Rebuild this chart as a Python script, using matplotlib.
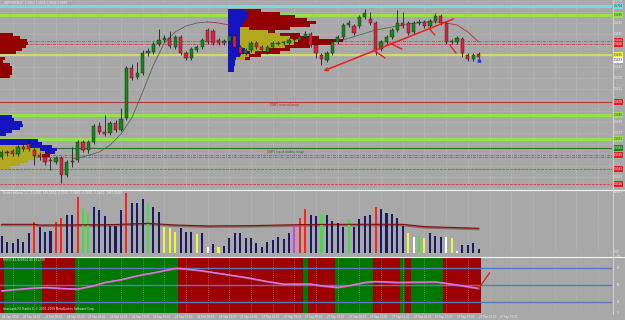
import matplotlib
matplotlib.use('Agg')
import matplotlib.pyplot as plt
import matplotlib.transforms as mtransforms

# ---------------- data ----------------
title_text = "GBPUSD,M30  1.5657 1.5658 1.5652 1.5653"
vol_title = "Better Volume 1.1  0.0000  149.0000  0.0000  0.0000  0.0000  0.0000  1957.0000"
rsi_title = "RSI(3) 41.920554 40.261238"
copyright_text = "Interbank FX Trader 4, \u00a9 2001-2009 MetaQuotes Software Corp."

opens = [1.5553, 1.5558, 1.5559, 1.5556, 1.5563, 1.5566, 1.5560, 1.5555, 1.5553, 1.5550,
         1.5548, 1.5552, 1.5535, 1.5548, 1.5550, 1.5568, 1.5560, 1.5568, 1.5584, 1.5578,
         1.5577, 1.5587, 1.5580, 1.5592, 1.5642, 1.5633, 1.5637, 1.5657, 1.5658, 1.5666,
         1.5670, 1.5672, 1.5663, 1.5673, 1.5657, 1.5652, 1.5660, 1.5663, 1.5680, 1.5679,
         1.5670, 1.5667, 1.5669, 1.5674, 1.5663, 1.5657, 1.5660, 1.5667, 1.5663, 1.5658,
         1.5663, 1.5667, 1.5667, 1.5667, 1.5671, 1.5670, 1.5673, 1.5676, 1.5665, 1.5655,
         1.5650, 1.5657, 1.5668, 1.5673, 1.5685, 1.5684, 1.5684, 1.5693, 1.5691, 1.5687,
         1.5661, 1.5668, 1.5673, 1.5680, 1.5687, 1.5687, 1.5678, 1.5687, 1.5688, 1.5684,
         1.5689, 1.5694, 1.5687, 1.5669, 1.5668, 1.5671, 1.5655, 1.5651, 1.5656]
highs = [1.5560, 1.5560, 1.5561, 1.5565, 1.5566, 1.5570, 1.5562, 1.5558, 1.5555, 1.5553,
         1.5554, 1.5554, 1.5550, 1.5563, 1.5570, 1.5570, 1.5570, 1.5586, 1.5588, 1.5595,
         1.5589, 1.5590, 1.5602, 1.5644, 1.5646, 1.5648, 1.5660, 1.5662, 1.5668, 1.5681,
         1.5675, 1.5679, 1.5675, 1.5675, 1.5659, 1.5663, 1.5665, 1.5672, 1.5682, 1.5681,
         1.5672, 1.5671, 1.5676, 1.5676, 1.5665, 1.5662, 1.5669, 1.5669, 1.5665, 1.5665,
         1.5669, 1.5669, 1.5669, 1.5672, 1.5673, 1.5675, 1.5679, 1.5678, 1.5667, 1.5657,
         1.5659, 1.5670, 1.5675, 1.5687, 1.5690, 1.5686, 1.5695, 1.5701, 1.5698, 1.5689,
         1.5670, 1.5675, 1.5682, 1.5700, 1.5698, 1.5689, 1.5689, 1.5691, 1.5690, 1.5691,
         1.5697, 1.5696, 1.5689, 1.5671, 1.5674, 1.5673, 1.5657, 1.5657, 1.5658]
lows = [1.5551, 1.5554, 1.5554, 1.5554, 1.5559, 1.5559, 1.5545, 1.5550, 1.5545, 1.5540,
        1.5546, 1.5527, 1.5533, 1.5543, 1.5548, 1.5558, 1.5557, 1.5566, 1.5576, 1.5574,
        1.5575, 1.5578, 1.5579, 1.5590, 1.5630, 1.5631, 1.5635, 1.5654, 1.5656, 1.5664,
        1.5668, 1.5662, 1.5661, 1.5655, 1.5650, 1.5650, 1.5658, 1.5661, 1.5666, 1.5665,
        1.5665, 1.5665, 1.5667, 1.5661, 1.5655, 1.5655, 1.5658, 1.5661, 1.5658, 1.5656,
        1.5661, 1.5665, 1.5665, 1.5665, 1.5668, 1.5668, 1.5671, 1.5663, 1.5652, 1.5645,
        1.5648, 1.5655, 1.5666, 1.5671, 1.5683, 1.5675, 1.5682, 1.5691, 1.5685, 1.5655,
        1.5659, 1.5666, 1.5671, 1.5678, 1.5682, 1.5675, 1.5676, 1.5685, 1.5682, 1.5682,
        1.5687, 1.5685, 1.5666, 1.5666, 1.5666, 1.5653, 1.5649, 1.5649, 1.5652]
closes = [1.5558, 1.5557, 1.5556, 1.5563, 1.5561, 1.5561, 1.5554, 1.5553, 1.5548, 1.5549,
          1.5552, 1.5535, 1.5548, 1.5549, 1.5568, 1.5560, 1.5568, 1.5584, 1.5578, 1.5576,
          1.5587, 1.5580, 1.5591, 1.5642, 1.5632, 1.5637, 1.5657, 1.5659, 1.5666, 1.5670,
          1.5672, 1.5664, 1.5673, 1.5657, 1.5652, 1.5661, 1.5663, 1.5670, 1.5668, 1.5667,
          1.5667, 1.5669, 1.5674, 1.5663, 1.5657, 1.5660, 1.5667, 1.5663, 1.5660, 1.5663,
          1.5667, 1.5666, 1.5668, 1.5670, 1.5670, 1.5673, 1.5676, 1.5665, 1.5657, 1.5651,
          1.5657, 1.5668, 1.5673, 1.5685, 1.5687, 1.5677, 1.5693, 1.5697, 1.5687, 1.5661,
          1.5668, 1.5673, 1.5680, 1.5687, 1.5684, 1.5677, 1.5687, 1.5688, 1.5684, 1.5689,
          1.5694, 1.5687, 1.5668, 1.5668, 1.5672, 1.5657, 1.5651, 1.5655, 1.5653]

# moving average readings (bar index, price)
ma_up_idx = [13, 15, 18, 20, 22, 24, 26, 28, 30, 32, 34, 36, 38]
ma_up_val = [1.5551, 1.5553, 1.5558, 1.5565, 1.5576, 1.5592, 1.5618, 1.5645, 1.5667, 1.5678,
             1.5684, 1.5687, 1.5688]
ma_dn1_idx = [38, 40, 42]
ma_dn1_val = [1.5688, 1.5687, 1.5685]
ma_up2_idx = [63, 66, 69, 72, 75, 78, 81]
ma_up2_val = [1.5670, 1.5675, 1.5680, 1.5683, 1.5686, 1.5688, 1.5688]
ma_dn2_idx = [81, 82, 84, 86, 88]
ma_dn2_val = [1.5688, 1.5687, 1.5685, 1.5678, 1.5668]

# volume
volumes = [419, 282, 242, 339, 266, 484, 750, 629, 524, 548,
           766, 846, 927, 927, 1370, 1088, 983, 1128, 1048, 903,
           669, 669, 1048, 1467, 1225, 1225, 1314, 1209, 1128, 1008,
           629, 605, 524, 605, 524, 524, 459, 500, 145, 226,
           145, 177, 379, 484, 484, 363, 363, 242, 161, 282,
           322, 403, 339, 484, 685, 862, 1064, 927, 911, 951,
           927, 782, 742, 645, 838, 645, 830, 903, 919, 1112,
           1072, 967, 943, 846, 669, 500, 403, 419, 379, 484,
           419, 403, 403, 363, 64, 202, 202, 242, 105]
vol_class = ("NNNNNNRNNN" "RRNNRLLNNN" "NNNRNNNLNN" "YYYNNNYNWN" "YNNNNNNNNN"
             "NNNNMRRNNL" "NNNNLNNNNR" "NNNNNYWLYN" "NNWYWNNNN")
vol_ma_idx = [0, 6, 7, 20, 27, 32, 38, 46, 55, 62, 74, 78, 82, 88]
vol_ma_val = [701, 701, 685, 693, 725, 685, 661, 669, 693, 701, 701, 645, 629, 605]

# RSI
rsi_idx = [0, 2, 5, 8, 11, 14, 17, 19, 22, 25, 29, 32, 33, 37, 41, 45, 49, 52, 55, 57,
           59, 62, 64, 67, 69, 73, 80, 82, 85, 88]
rsi_val = [39.8, 41.7, 44.1, 45.9, 44.1, 42.9, 48.8, 54.8, 59.5, 66.7, 73.8, 79.8, 79.8,
           75.6, 69.6, 63.7, 56.5, 51.8, 51.8, 52.0, 48.8, 45.9, 48.8, 54.8, 56.5, 54.8,
           55.6, 53.3, 48.8, 44.1]
rsi_zone = ("RGGGGGGGRRRRRRGGGGGGGGGGGGGGGGGGGRRRRRRRRRRRRRRRRRRRRRRRGRRRRRGGGGGGGRRRRRGRGGGGGGRRRRRRR")
rsi_ext_idx = [88, 90]
rsi_ext_val = [44.1, 71.4]
rsi_levels = [80, 50, 20]

# horizontal levels (price, colour, width, style, right-scale box colour)
level_price = [1.5704, 1.5695, 1.5669, 1.5666, 1.5655, 1.5608, 1.5595, 1.5571, 1.5562,
               1.5555, 1.5553, 1.5541, 1.5526]
level_color = ['#6fdede', '#97e04a', '#c85050', '#c85050', '#e6e65a', '#b23a3a', '#97e04a',
               '#97e04a', '#2f6f2f', '#c85050', '#c85050', '#c85050', '#c85050']
level_width = [2.2, 2.2, 0.7, 0.7, 1.1, 0.8, 2.2, 2.2, 0.8, 0.7, 0.7, 0.7, 0.7]
level_style = ['-', '-', (0, (3, 1, 1, 1)), (0, (3, 1, 1, 1)), '-', '-', '-', '-', '-',
               (0, (3, 1, 1, 1)), (0, (3, 1, 1, 1)), (0, (3, 1)), (0, (3, 1))]
level_box = ['#6fdede', '#97e04a', '#e02020', '#e02020', '#f0f040', '#e02020', '#97e04a',
             '#97e04a', '#1f7f1f', '#e02020', None, '#e02020', '#e02020']

# volume profiles: row top price, segment widths (in bars)
mid_prof_top = [1.5701, 1.5698, 1.5695, 1.5692, 1.5689, 1.5686, 1.5683, 1.5680, 1.5677,
                1.5674, 1.5671, 1.5668, 1.5665, 1.5662, 1.5659, 1.5656, 1.5653, 1.5650,
                1.5647, 1.5644, 1.5641]
mid_prof_blue = [3.1, 3.7, 3.7, 3.3, 3.0, 2.6, 2.2, 2.2, 2.2, 2.2, 2.2, 2.2, 2.2, 3.1, 4.1,
                 2.2, 1.5, 1.3, 1.3, 1.1, 1.1]
mid_prof_olive = [0, 0, 0, 0, 0, 0, 1.8, 5.2, 7.4, 9.2, 10.7, 10.1, 8.3, 4.6, 0.9, 1.8, 1.7,
                  0, 0, 0, 0]
mid_prof_red = [3.1, 5.9, 8.7, 11.4, 13.3, 12.5, 7.4, 1.3, 3.7, 5.5, 8.3, 7.4, 4.6, 3.7, 4.6,
                2.2, 0.9, 0, 0, 0, 0]
mid_prof_start = 41.7

lu_prof_top = [1.5677, 1.5674, 1.5671, 1.5668, 1.5665, 1.5662, 1.5659, 1.5656, 1.5653,
               1.5650, 1.5647, 1.5644, 1.5641, 1.5638, 1.5635]
lu_prof_red = [2.4, 3.7, 5.0, 5.2, 4.8, 4.1, 3.0, 0, 0.9, 0.5, 1.8, 2.2, 2.2, 2.2, 1.8]

lb_prof_top = [1.5595, 1.5592, 1.5589, 1.5586, 1.5583, 1.5580, 1.5577]
lb_prof_blue = [2.2, 2.6, 4.1, 4.2, 3.7, 2.2, 1.1]

ll_prof_top = [1.5571, 1.5568, 1.5565, 1.5562, 1.5559, 1.5556, 1.5553, 1.5550, 1.5547, 1.5544]
ll_prof_olive = [0, 0, 5.5, 7.4, 8.3, 7.7, 6.5, 5.2, 3.7, 1.8]
ll_prof_blue = [7.0, 7.7, 4.1, 3.1, 1.8, 0, 0, 0, 0, 0]
ll_prof_red = [0, 0, 0, 0, 0, 1.5, 0, 0, 0, 0]
prof_row = 0.0003

# trend line and marks (bar index, price)
trend_idx = [58.9, 83.8]
trend_val = [1.5638, 1.5692]
tick_marks = [([68.6, 70.7], [1.5660, 1.5652]), ([71.6, 73.8], [1.5667, 1.5661]),
              ([78.8, 79.9], [1.5682, 1.5675]), ([82.7, 83.8], [1.5665, 1.5657])]

price_ticks = [1.5709, 1.5698, 1.5687, 1.5676, 1.5665, 1.5654, 1.5643, 1.5632, 1.5621,
               1.5610, 1.5599, 1.5588, 1.5577, 1.5566, 1.5555, 1.5544, 1.5533, 1.5522]
time_labels = ["24 Sep 2010", "24 Sep 03:00", "24 Sep 05:00", "24 Sep 07:00", "24 Sep 09:00",
               "24 Sep 11:00", "24 Sep 13:00", "24 Sep 15:00", "24 Sep 17:00", "24 Sep 19:00",
               "24 Sep 21:00", "26 Sep 23:00", "27 Sep 01:00", "27 Sep 03:00", "27 Sep 05:00",
               "27 Sep 07:00", "27 Sep 09:00", "27 Sep 11:00", "27 Sep 13:00", "27 Sep 15:00",
               "27 Sep 17:00", "27 Sep 19:00", "27 Sep 21:00", "27 Sep 23:00"]

# ---------------- drawing ----------------
W, H = 625, 320
BG = '#a8a8a8'
GRID = '#c6c6c6'
TXT = '#f2f2f2'
FS = 2.1
fig = plt.figure(figsize=(W / 100, H / 100), dpi=100)
fig.patch.set_facecolor(BG)


def px_axes(x0, y0, x1, y1):
    ax = fig.add_axes([x0 / W, 1 - y1 / H, (x1 - x0) / W, (y1 - y0) / H])
    ax.set_facecolor(BG)
    for s in ax.spines.values():
        s.set_visible(False)
    ax.set_xticks([])
    ax.set_yticks([])
    return ax


XMIN, XMAX = -0.314, 112.6
n = len(opens)
idx = list(range(n))
grid_x = list(range(2, 113, 4))

ax = px_axes(0, 0, 612, 189)
ax.set_xlim(XMIN, XMAX)
ax.set_ylim(1.5521, 1.5710)
for gx in grid_x:
    ax.axvline(gx, color=GRID, lw=0.5, ls=(0, (1, 2)), zorder=0)
for gy in price_ticks:
    ax.axhline(gy, color=GRID, lw=0.5, ls=(0, (1, 2)), zorder=0)

for p, c, w, s in zip(level_price, level_color, level_width, level_style):
    ax.axhline(p, color=c, lw=w, ls=s, zorder=1)


def draw_profile(tops, start, segs):
    left = [start] * len(tops)
    centers = [t - prof_row / 2 for t in tops]
    for widths, col in segs:
        ax.barh(centers, widths, height=prof_row, left=left, color=col, lw=0, zorder=2)
        left = [l + w for l, w in zip(left, widths)]


RED_P, BLUE_P, OLIVE_P = '#930000', '#1414c0', '#b0a81e'
draw_profile(lu_prof_top, XMIN, [(lu_prof_red, RED_P)])
draw_profile(lb_prof_top, XMIN, [(lb_prof_blue, BLUE_P)])
draw_profile(ll_prof_top, XMIN, [(ll_prof_olive, OLIVE_P), (ll_prof_blue, BLUE_P), (ll_prof_red, RED_P)])
draw_profile(mid_prof_top, mid_prof_start, [(mid_prof_blue, BLUE_P), (mid_prof_olive, OLIVE_P), (mid_prof_red, RED_P)])

ax.text(49.5, 1.5607, "[GBP] reversal major", color='#d02020', fontsize=FS, va='top', zorder=3)
ax.text(49.0, 1.5560, "[GBP] top of trading range", color='#1e6e1e', fontsize=FS, va='top', zorder=3)
ax.text(49.0, 1.5703, "[GBP] major resistance", color='#6fe6e6', fontsize=FS, va='center', zorder=3)

ax.plot(ma_up_idx, ma_up_val, color='#4a6a4a', lw=0.6, zorder=3)
ax.plot(ma_dn1_idx, ma_dn1_val, color='#a03030', lw=0.6, zorder=3)
ax.plot(ma_up2_idx, ma_up2_val, color='#4a6a4a', lw=0.6, zorder=3)
ax.plot(ma_dn2_idx, ma_dn2_val, color='#b03030', lw=0.6, zorder=3)

BULL, BEAR = '#118a11', '#e0203c'
body_bottom = [min(o, c) for o, c in zip(opens, closes)]
body_h = [max(abs(c - o), 0.00006) for o, c in zip(opens, closes)]
body_col = [BULL if c > o else BEAR for o, c in zip(opens, closes)]
ax.vlines(idx, lows, highs, color='#1e1e1e', lw=0.6, zorder=4)
ax.bar(idx, body_h, bottom=body_bottom, width=0.6, color=body_col, edgecolor='#1e1e1e',
       lw=0.3, zorder=5)
ax.plot([n - 1], [lows[-1] - 0.0002], marker='^', ms=2.2, color='#2030ff', zorder=6)

ax.annotate('', xy=(trend_idx[0], trend_val[0]), xytext=(trend_idx[1], trend_val[1]),
            arrowprops=dict(arrowstyle='->', color='#ee1c1c', lw=1.1, mutation_scale=5), zorder=6)
for xs, ys in tick_marks:
    ax.plot(xs, ys, color='#ee1c1c', lw=1.0, zorder=6)

ax.text(0.5, 1.5707, title_text, color='#eeeeee', fontsize=FS, va='center', zorder=7)

# right price scale: level boxes cover the plain labels next to them
tr = mtransforms.blended_transform_factory(ax.transAxes, ax.transData)
box_prices = [p for p, b in zip(level_price, level_box) if b] + [closes[-1] - 0.0003]
for p in price_ticks:
    if min(abs(p - b) for b in box_prices) < 0.00045:
        continue
    ax.text(1.003, p, f"{p:.4f}", transform=tr, color='#eeeeee', fontsize=1.9, va='center',
            clip_on=False)
for p, bc in zip(level_price, level_box):
    if bc is None:
        continue
    fc = '#333333' if bc in ('#f0f040', '#6fdede', '#97e04a') else '#ffffff'
    ax.text(1.003, p, f"{p:.4f}", transform=tr, color=fc, fontsize=1.9, va='center',
            clip_on=False, bbox=dict(boxstyle='square,pad=0.2', fc=bc, ec='none'))
ax.text(1.003, closes[-1] - 0.0003, f"{closes[-1]:.4f}", transform=tr, color='#222222',
        fontsize=1.9, va='center', clip_on=False,
        bbox=dict(boxstyle='square,pad=0.2', fc='#ffffff', ec='none'))

fig.add_artist(plt.Line2D([0, 1], [1 - 189.5 / H] * 2, color='#f4f4f4', lw=0.8))
fig.add_artist(plt.Line2D([0, 1], [1 - 256.5 / H] * 2, color='#f4f4f4', lw=0.8))
fig.add_artist(plt.Line2D([612.5 / W] * 2, [1 - 313.5 / H, 1], color='#d8d8d8', lw=0.6))

# ---------- volume panel ----------
vax = px_axes(0, 190, 612, 253.3)
vax.set_xlim(XMIN, XMAX)
vax.set_ylim(0, 1531)
for gx in grid_x:
    vax.axvline(gx, color=GRID, lw=0.5, ls=(0, (1, 2)), zorder=0)
cmap = {'N': '#1a1a66', 'R': '#ff2020', 'L': '#3fe03f', 'Y': '#f4f43a', 'W': '#ffffff',
        'M': '#f030f0'}
vax.bar(idx, volumes, width=0.38, color=[cmap[c] for c in vol_class], lw=0, zorder=2)
vax.plot(vol_ma_idx, [v - 25 for v in vol_ma_val], color='#8a6a64', lw=1.4, zorder=1)
vax.plot(vol_ma_idx, vol_ma_val, color='#7a1010', lw=0.8, zorder=3)
vax.text(0.3, 1470, vol_title, color=TXT, fontsize=FS, va='center')
vtr = mtransforms.blended_transform_factory(vax.transAxes, vax.transData)
vax.text(1.003, 1490, "1498.5", transform=vtr, color=TXT, fontsize=1.9, va='center', clip_on=False)
vax.text(1.003, 40, "0.00", transform=vtr, color=TXT, fontsize=1.9, va='center', clip_on=False)

# ---------- RSI panel ----------
rax = px_axes(0, 257, 612, 313)
rax.set_xlim(XMIN, XMAX)
rax.set_ylim(0, 100)
zc = {'R': '#9e0000', 'G': '#007800'}
for i, z in enumerate(rsi_zone):
    rax.axvspan(i - 0.5, i + 0.5, color=zc[z], lw=0, zorder=0)
for gx in grid_x:
    rax.axvline(gx, color=GRID, lw=0.5, ls=(0, (1, 2)), zorder=1, alpha=0.8)
for lv in rsi_levels:
    rax.axhline(lv, color='#5a78bf', lw=1.0, zorder=2)
rax.plot(rsi_idx, [v - 0.8 for v in rsi_val], color='#9a7a9a', lw=1.2, zorder=3)
rax.plot(rsi_idx, rsi_val, color='#f070f0', lw=0.8, zorder=4)
rax.plot(rsi_ext_idx, rsi_ext_val, color='#e01a1a', lw=0.9, zorder=4)
rax.text(0.3, 94, rsi_title, color=TXT, fontsize=FS, va='center')
rax.text(0.3, 7, copyright_text, color=TXT, fontsize=FS, va='center')
rtr = mtransforms.blended_transform_factory(rax.transAxes, rax.transData)
for v in [100, 80, 50, 20, 0]:
    rax.text(1.008, v, str(v), transform=rtr, color=TXT, fontsize=1.9, va='center', clip_on=False)

for k, lab in enumerate(time_labels):
    rax.text(k * 4, -3, lab, color=TXT, fontsize=1.9, va='top', ha='left', clip_on=False)

fig.savefig('out.png', dpi=100, facecolor=BG)
